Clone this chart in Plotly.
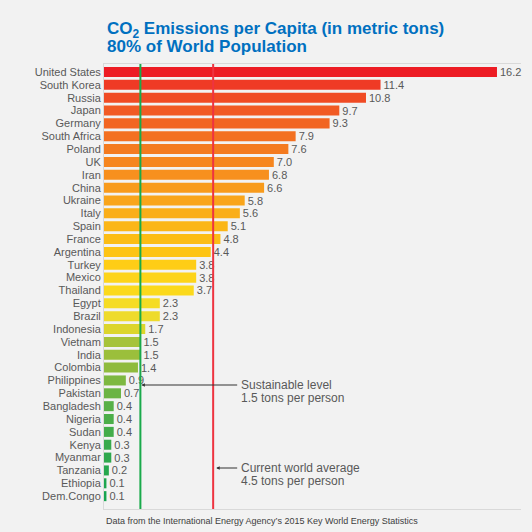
import plotly.graph_objects as go

countries = ["United States", "South Korea", "Russia", "Japan", "Germany", "South Africa",
             "Poland", "UK", "Iran", "China", "Ukraine", "Italy", "Spain", "France",
             "Argentina", "Turkey", "Mexico", "Thailand", "Egypt", "Brazil", "Indonesia",
             "Vietnam", "India", "Colombia", "Philippines", "Pakistan", "Bangladesh",
             "Nigeria", "Sudan", "Kenya", "Myanmar", "Tanzania", "Ethiopia", "Dem.Congo"]
emissions = [16.2, 11.4, 10.8, 9.7, 9.3, 7.9, 7.6, 7.0, 6.8, 6.6, 5.8, 5.6, 5.1, 4.8,
             4.4, 3.8, 3.8, 3.7, 2.3, 2.3, 1.7, 1.5, 1.5, 1.4, 0.9, 0.7, 0.4,
             0.4, 0.4, 0.3, 0.3, 0.2, 0.1, 0.1]
bar_colors = ["#ED1C24", "#EF3A25", "#F04B24", "#F15A24", "#F26522", "#F37021",
              "#F47B20", "#F6861F", "#F7901E", "#F89B1C", "#F9A51B", "#FAAE19",
              "#FBB617", "#FCBD15", "#FDC414", "#FECD16", "#FDD41A", "#FBD91C",
              "#F5DC24", "#EEDB2C", "#DCD52C", "#A6C33A", "#9BBF3B", "#8FBB3D",
              "#7DB841", "#6BB444", "#58B047", "#4CAE49", "#43AC4A", "#38AA4C",
              "#2FA84D", "#26A74E", "#1EA64F", "#15A550"]
sustainable_level = 1.5
world_average = 4.5
title_lines = ["<b>CO<sub>2</sub> Emissions per Capita (in metric tons)</b>",
               "<b>80% of World Population</b>"]
note_sustainable = ["Sustainable level", "1.5 tons per person"]
note_average = ["Current world average", "4.5 tons per person"]

FONT = "Liberation Sans, Arial, sans-serif"
GREY = "#595959"
PLOT_TOP, PLOT_H = 64, 445


def py(pixel_y):
    """convert page pixel y to paper y"""
    return 1 - (pixel_y - PLOT_TOP) / PLOT_H


fig = go.Figure()
fig.add_trace(go.Bar(
    x=emissions, y=countries, orientation="h",
    marker=dict(color=bar_colors, line=dict(width=0)),
    width=0.78,
    text=emissions, texttemplate="%{x:.1f}", textposition="outside",
    constraintext="none",
    textfont=dict(family=FONT, size=11, color=GREY),
    cliponaxis=False, hoverinfo="skip",
))

# reference lines
fig.add_shape(type="line", xref="x", yref="paper", x0=sustainable_level, x1=sustainable_level,
              y0=0, y1=1, line=dict(color="#19AA4B", width=2), layer="above")
fig.add_shape(type="line", xref="x", yref="paper", x0=world_average, x1=world_average,
              y0=0, y1=1, line=dict(color="#EE3340", width=2), layer="above")

# callouts: first line carries the arrow, second line is plain text
for level, lines, ys, stand in ((sustainable_level, note_sustainable, (385, 398), 1),
                                (world_average, note_average, (468, 481), 3)):
    fig.add_annotation(x=level, y=py(ys[0]), xref="x", yref="paper",
                       ax=5.49, ay=0, axref="x", ayref="pixel",
                       xanchor="left", yanchor="middle", align="left",
                       text=lines[0], showarrow=True, arrowhead=2, arrowsize=0.7,
                       arrowwidth=1, arrowcolor="#333333", standoff=stand, borderpad=3,
                       font=dict(family=FONT, size=12, color=GREY))
    fig.add_annotation(x=5.57, y=py(ys[1]), xref="x", yref="paper",
                       xanchor="left", yanchor="middle", align="left", showarrow=False,
                       text=lines[1], font=dict(family=FONT, size=12, color=GREY))
# title
for txt, yy in zip(title_lines, (30, 46)):
    fig.add_annotation(x=0.002, y=py(yy), xref="paper", yref="paper",
                       xanchor="left", yanchor="middle", align="left", showarrow=False,
                       text=txt, font=dict(family=FONT, size=17, color="#0070C0"))
# footer
fig.add_annotation(x=0, y=py(521), xref="paper", yref="paper", xanchor="left", yanchor="middle",
                   showarrow=False,
                   text="Data from the International Energy Agency\u2019s 2015 Key World Energy Statistics",
                   font=dict(family=FONT, size=9, color="#404040"))

fig.update_layout(
    width=532, height=532,
    margin=dict(l=104, r=11, t=64, b=23),
    paper_bgcolor="#F2F2F2", plot_bgcolor="#F2F2F2",
    showlegend=False,
    xaxis=dict(range=[0, 17.19], showticklabels=False, showgrid=False, zeroline=False,
               showline=True, mirror=True, linecolor="#D9D9D9", linewidth=1, ticks=""),
    yaxis=dict(type="category", categoryorder="array", categoryarray=countries,
               tickmode="array", tickvals=countries, ticktext=countries,
               range=[34.0, -0.62], showgrid=False, zeroline=False,
               showline=True, linecolor="#D9D9D9", linewidth=1, ticks="",
               ticklabelstandoff=0,
               tickfont=dict(family=FONT, size=11, color=GREY)),
    font=dict(family=FONT),
)

fig.write_html("out.html", config={"displayModeBar": False},
               post_script="document.body.style.margin='0';document.body.style.overflow='hidden';")
